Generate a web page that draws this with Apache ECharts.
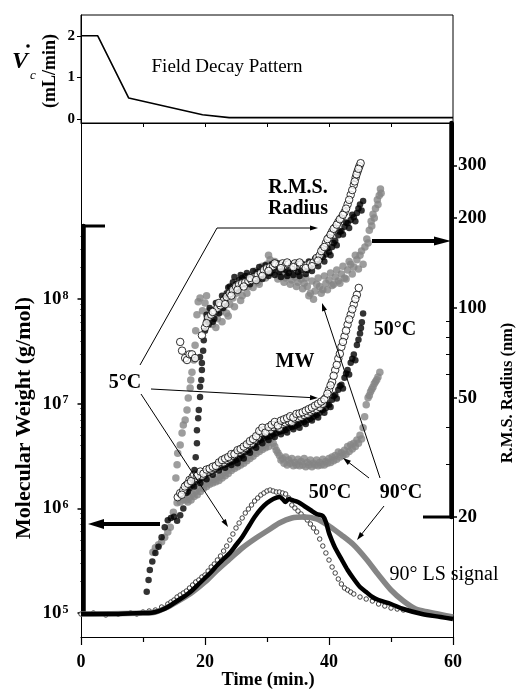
<!DOCTYPE html>
<html><head><meta charset="utf-8">
<script src="https://cdn.jsdelivr.net/npm/echarts@6/dist/echarts.min.js"></script>
<style>html,body{margin:0;padding:0;background:#fff}#c{width:521px;height:690px}</style>
</head><body><div id="c"></div>
<script>
const FONT = '"Liberation Serif","Times New Roman",serif';
const GRAY = '#858585';

// ---- Top panel: field decay pattern (mL/min vs time) ----
const decayTime = [0, 2.7, 7.7, 19.6, 23.9, 60];
const decayFlow = [2, 2, 0.5, 0.1, 0.03, 0.03];
const decayTicks = [0, 1, 2];

// ---- Axis tick values ----
const mwTickExps = [5, 6, 7, 8];             // 10^5 ... 10^8 g/mol
const rmsTicks = [20, 50, 100, 200, 300];    // nm
const rmsMinorTicks = [30, 40, 60, 70, 80, 90];

// ---- R.M.S. radius (nm) ----
const rms5C = [[16.0,77],[16.3,72],[16.8,68],[17.1,67],[17.5,70],[17.9,70],[18.4,68],[19.5,81],[20.0,86],[20.5,93],[21.0,95],[21.5,98],[22.0,100],[22.5,102],[23.0,106],[23.5,109],[24.0,112],[24.5,115],[25.0,118],[25.5,120],[26.0,121],[26.5,122],[27.0,123],[27.5,124],[28.0,127],[28.5,129],[29.0,131],[29.5,134],[30.0,136],[30.5,137],[31.0,138],[31.5,140],[32.0,139],[32.5,141],[33.0,139],[33.5,140],[34.0,138],[34.5,141],[35.0,139],[35.5,140],[36.0,138],[36.5,139],[37.0,141],[37.5,142],[38.0,147],[38.5,150],[39.0,158],[39.5,165],[40.0,172],[40.5,180],[41.0,186],[41.5,194],[42.0,200],[42.5,209],[43.0,222],[43.5,239],[44.0,258],[44.3,273],[44.6,286],[44.9,298],[45.1,305]];
const rms5CSpread = [[20.25,89],[21.25,97],[22.25,104],[23.25,103],[24.25,110],[25.25,115],[26.25,118],[27.25,126],[28.25,124],[29.25,128],[30.25,133],[31.25,141],[32.25,136],[33.25,142],[34.25,137],[35.25,142],[36.25,136],[37.25,138],[38.25,144],[38.75,155],[39.25,160],[39.75,170],[40.25,176],[40.75,184],[41.25,190],[41.75,198],[42.25,205],[42.75,215],[43.25,230],[43.75,248],[44.15,265],[44.45,280],[44.75,292]];
const rms50C = [[18.3,28.7],[18.5,31.7],[18.7,35.3],[18.7,39],[18.9,42.8],[19.0,45.6],[19.2,50.4],[19.2,54.5],[19.4,57.4],[19.5,62],[19.5,65.5],[19.2,68.6],[19.7,72],[19.8,78],[20.0,84],[20.3,91],[20.6,88],[21.0,95],[21.5,92],[21.9,98],[22.3,101],[22.9,100],[23.2,108],[23.5,112],[24.0,118],[24.5,122],[25.0,120],[25.5,124],[26.0,126],[26.5,128],[27.0,124],[27.5,127],[28.0,128],[28.5,132],[29.0,127],[29.5,132],[30.0,136],[30.5,131],[31.0,134],[31.5,137],[32.0,132],[32.5,135],[33.0,134],[33.5,131],[34.0,135],[34.5,136],[35.0,132],[35.5,134],[36.0,138],[36.5,134],[37.0,138],[37.5,141],[38.0,142],[38.5,145],[39.0,148],[39.5,151],[40.0,154],[40.5,160],[41.0,168],[41.5,175],[42.0,181],[42.5,187],[43.0,192],[43.5,197],[44.0,201],[44.5,208],[45.0,222],[45.5,228]];
const rms50CSpread = [[20.25,95],[20.75,100],[21.25,90],[21.75,104],[22.25,96],[22.75,110],[23.25,104],[23.75,117],[24.25,112],[24.75,127],[25.25,116],[25.75,129],[26.25,121],[26.75,131],[27.25,120],[27.75,133],[28.25,124],[28.75,137],[29.25,125],[29.75,139],[30.25,128],[30.75,140],[31.25,129],[31.75,141],[32.25,127],[32.75,140],[33.25,128],[33.75,139],[34.25,129],[34.75,141],[35.25,128],[35.75,140],[36.25,130],[36.75,143],[37.25,133],[37.75,146],[38.25,138],[38.75,150],[39.25,143],[39.75,158],[40.25,150],[40.75,165],[41.25,162],[41.75,180],[42.25,176],[42.75,193],[43.25,185],[43.75,205],[44.25,195],[44.75,215],[45.25,212]];
const rms90C = [[15.3,27],[15.5,29.9],[15.6,32.7],[16.0,34.8],[16.3,38.2],[16.5,40.6],[16.8,42.2],[17.1,45.6],[17.3,50],[17.6,54],[17.7,57.4],[17.9,61],[18.2,67],[18.4,75],[18.5,84],[18.7,95],[18.9,105],[19.2,108],[19.6,98],[20.0,104],[20.4,93],[20.8,90],[21.2,88],[21.6,95],[22.0,92],[22.5,97],[23.0,100],[23.5,96],[24.0,103],[24.5,108],[25.0,112],[25.5,115],[26.0,110],[26.5,120],[27.0,118],[27.5,124],[28.0,127],[28.5,122],[29.0,130],[29.5,135],[30.0,140],[30.5,145],[31.0,138],[31.5,133],[32.0,128],[32.5,131],[33.0,126],[33.5,129],[34.0,124],[34.5,127],[35.0,122],[35.5,125],[36.0,121],[36.5,118],[37.0,112],[37.5,107],[38.0,120],[38.5,118],[39.0,115],[39.5,121],[40.0,124],[40.5,119],[41.0,127],[41.5,123],[42.0,130],[42.5,126],[43.0,134],[43.5,140],[44.0,137],[44.5,145],[45.0,150],[45.5,140],[45.8,160],[46.1,170],[46.5,182],[46.8,195],[47.1,206],[47.5,215],[47.8,230],[48.1,238],[48.4,242]];
const rms90CSpread = [[20.25,110],[20.75,98],[21.25,96],[21.75,86],[22.25,102],[22.75,90],[23.25,106],[23.75,94],[24.25,113],[24.75,101],[25.25,118],[25.75,106],[26.25,124],[26.75,112],[27.25,128],[27.75,117],[28.25,133],[28.75,120],[29.25,138],[29.75,126],[30.25,150],[30.75,131],[31.25,143],[31.75,125],[32.25,136],[32.75,122],[33.25,134],[33.75,120],[34.25,131],[34.75,118],[35.25,129],[35.75,116],[36.25,126],[36.75,110],[37.25,123],[37.75,114],[38.25,126],[38.75,112],[39.25,128],[39.75,115],[40.25,131],[40.75,120],[41.25,134],[41.75,121],[42.25,138],[42.75,125],[43.25,143],[43.75,130],[44.25,150],[44.75,135],[45.25,155],[46.3,165],[46.9,188],[47.3,200],[47.9,222],[48.3,250]];

// ---- Molecular weight (g/mol) ----
const mw5C = [[15.6,1.28e6],[16.0,1.4e6],[16.5,1.5e6],[17.0,1.67e6],[17.5,1.87e6],[18.0,2.0e6],[18.5,1.95e6],[19.0,2.1e6],[19.5,2.05e6],[20.0,2.2e6],[20.5,2.25e6],[21.0,2.33e6],[21.5,2.45e6],[22.0,2.6e6],[22.5,2.7e6],[23.0,2.75e6],[23.5,2.9e6],[24.0,3.0e6],[24.5,3.2e6],[25.0,3.4e6],[25.5,3.45e6],[26.0,3.6e6],[26.5,3.8e6],[27.0,4.05e6],[27.5,4.2e6],[28.0,4.5e6],[28.5,4.8e6],[29.0,5.3e6],[29.5,5.6e6],[30.0,5.5e6],[30.5,5.6e6],[31.0,6.0e6],[31.5,6.3e6],[32.0,5.9e6],[32.5,6.4e6],[33.0,6.6e6],[33.5,6.8e6],[34.0,6.7e6],[34.5,7.2e6],[35.0,7.3e6],[35.5,7.5e6],[36.0,7.8e6],[36.5,8.0e6],[37.0,8.4e6],[37.5,8.7e6],[38.0,8.9e6],[38.5,9.3e6],[39.0,1.0e7],[39.5,1.14e7],[40.0,1.36e7],[40.5,1.62e7],[41.0,2.1e7],[41.5,2.7e7],[42.0,3.5e7],[42.5,4.4e7],[43.0,5.7e7],[43.5,7.1e7],[44.0,8.9e7],[44.5,1.1e8],[44.8,1.28e8]];
const mw5CSpread = [[16.25,1.35e6],[16.75,1.62e6],[17.25,1.72e6],[17.75,1.82e6],[18.25,2.1e6],[18.75,2.05e6],[19.25,2.25e6],[19.75,2.15e6],[20.25,2.35e6],[20.75,2.4e6],[21.25,2.5e6],[21.75,2.55e6],[22.25,2.75e6],[22.75,2.9e6],[23.25,3.0e6],[23.75,3.1e6],[24.25,3.3e6],[24.75,3.3e6],[25.25,3.6e6],[25.75,3.7e6],[26.25,3.9e6],[26.75,4.1e6],[27.25,4.4e6],[27.75,4.6e6],[28.25,4.9e6],[28.75,5.5e6],[29.25,5.9e6],[29.75,5.3e6],[30.25,6.0e6],[30.75,6.3e6],[31.25,6.7e6],[31.75,6.2e6],[32.25,6.9e6],[32.75,7.1e6],[33.25,7.3e6],[33.75,7.6e6],[34.25,7.4e6],[34.75,8.0e6],[35.25,8.1e6],[35.75,8.3e6],[36.25,8.6e6],[36.75,8.9e6],[37.25,9.2e6],[37.75,9.6e6],[38.25,1.0e7],[38.75,1.05e7],[39.25,1.1e7],[39.75,1.25e7],[40.25,1.5e7],[40.75,1.85e7],[41.25,2.35e7],[41.75,3.0e7],[42.25,3.9e7],[42.75,5.0e7],[43.25,6.4e7],[43.75,8.0e7],[44.25,1.0e8]];
const mw50C = [[10.6,1.6e5],[10.9,2.07e5],[11.1,2.58e5],[11.5,3.1e5],[12.0,3.74e5],[12.5,4.3e5],[13.0,5.3e5],[13.5,6.6e5],[14.0,7.7e5],[14.5,8.1e5],[15.0,8.3e5],[15.5,7.6e5],[16.0,8.6e5],[16.5,1.0e6],[17.0,1.4e6],[17.5,1.56e6],[18.0,1.67e6],[18.5,1.8e6],[19.0,1.87e6],[19.5,1.95e6],[20.0,2.05e6],[20.5,2.15e6],[21.0,2.25e6],[21.5,2.33e6],[22.0,2.45e6],[22.5,2.5e6],[23.0,2.6e6],[23.5,2.65e6],[24.0,2.75e6],[24.5,2.8e6],[25.0,2.9e6],[25.5,3.0e6],[26.0,3.2e6],[26.5,3.45e6],[27.0,3.6e6],[27.5,3.9e6],[28.0,4.05e6],[28.5,4.3e6],[29.0,4.5e6],[29.5,4.7e6],[30.0,4.8e6],[30.5,4.9e6],[31.0,5.1e6],[31.5,5.25e6],[32.0,5.4e6],[32.5,5.5e6],[33.0,5.6e6],[33.5,5.9e6],[34.0,6.0e6],[34.5,6.1e6],[35.0,6.3e6],[35.5,6.6e6],[36.0,6.7e6],[36.5,7.0e6],[37.0,7.2e6],[37.5,7.5e6],[38.0,7.8e6],[38.5,8.2e6],[39.0,8.7e6],[39.5,9.1e6],[40.0,9.8e6],[40.5,1.09e7],[41.0,1.22e7],[41.5,1.36e7],[42.0,1.52e7],[42.5,1.77e7],[43.0,2.1e7],[43.5,2.46e7],[44.0,2.95e7],[44.5,3.65e7],[45.0,4.7e7],[45.3,6.0e7],[45.5,7.3e7]];
const mw50CSpread = [[17.25,1.45e6],[17.75,1.75e6],[18.25,1.62e6],[18.75,1.95e6],[19.25,1.75e6],[19.75,2.1e6],[20.25,1.9e6],[20.75,2.3e6],[21.25,2.1e6],[21.75,2.55e6],[22.25,2.3e6],[22.75,2.7e6],[23.25,2.45e6],[23.75,2.9e6],[24.25,2.6e6],[24.75,3.05e6],[25.25,2.7e6],[25.75,3.3e6],[26.25,3.0e6],[26.75,3.7e6],[27.25,3.4e6],[27.75,4.2e6],[28.25,3.8e6],[28.75,4.6e6],[29.25,4.2e6],[29.75,5.1e6],[30.25,4.5e6],[30.75,5.3e6],[31.25,4.8e6],[31.75,5.7e6],[32.25,5.1e6],[32.75,5.9e6],[33.25,5.3e6],[33.75,6.3e6],[34.25,5.7e6],[34.75,6.5e6],[35.25,5.9e6],[35.75,7.0e6],[36.25,6.4e6],[36.75,7.5e6],[37.25,6.9e6],[37.75,8.0e6],[38.25,7.4e6],[38.75,8.8e6],[39.25,8.2e6],[39.75,9.9e6],[40.25,9.3e6],[40.75,1.18e7],[41.25,1.12e7],[41.75,1.48e7],[42.25,1.4e7],[42.75,1.95e7],[43.25,1.9e7],[43.75,2.7e7],[44.25,2.6e7],[44.75,4.1e7],[45.15,5.3e7]];
const mw90C = [[11.6,3.8e5],[12.0,4.2e5],[12.5,4.5e5],[13.0,4.8e5],[13.5,5.3e5],[14.0,5.95e5],[14.4,6.6e5],[14.9,9.2e5],[15.5,1.13e6],[16.0,1.15e6],[16.5,1.2e6],[17.0,1.2e6],[17.5,1.28e6],[18.0,1.37e6],[18.5,1.46e6],[19.0,1.56e6],[19.5,1.67e6],[20.0,1.75e6],[20.5,1.8e6],[21.0,1.87e6],[21.5,1.9e6],[22.0,2.0e6],[22.5,2.05e6],[23.0,2.2e6],[23.5,2.3e6],[24.0,2.45e6],[24.5,2.55e6],[25.0,2.7e6],[25.5,2.75e6],[26.0,2.9e6],[26.5,3.0e6],[27.0,3.2e6],[27.5,3.4e6],[28.0,3.6e6],[28.5,3.8e6],[29.0,3.9e6],[29.5,4.05e6],[30.0,4.2e6],[30.5,4.5e6],[31.0,4.2e6],[31.5,3.6e6],[32.0,3.2e6],[32.5,3.0e6],[33.0,3.1e6],[33.5,2.9e6],[34.0,3.0e6],[34.5,2.75e6],[35.0,2.95e6],[35.5,2.8e6],[36.0,3.0e6],[36.5,2.75e6],[37.0,2.9e6],[37.5,2.7e6],[38.0,2.9e6],[38.5,2.75e6],[39.0,2.95e6],[39.5,2.8e6],[40.0,3.0e6],[40.5,3.1e6],[41.0,3.2e6],[41.5,3.45e6],[42.0,3.4e6],[42.5,3.6e6],[43.0,3.9e6],[43.5,4.05e6],[44.0,4.2e6],[44.5,4.5e6],[45.0,5.0e6],[45.5,5.9e6],[46.0,9.8e6],[46.3,1.14e7],[46.7,1.3e7],[47.1,1.45e7],[47.5,1.62e7],[47.9,1.8e7],[48.2,2.0e7]];
const mw90CSpread = [[17.25,1.15e6],[17.75,1.2e6],[18.25,1.3e6],[18.75,1.35e6],[19.25,1.45e6],[19.75,1.55e6],[20.25,1.62e6],[20.75,1.7e6],[21.25,1.75e6],[21.75,1.8e6],[22.25,1.85e6],[22.75,1.95e6],[23.25,2.05e6],[23.75,2.15e6],[24.25,2.3e6],[24.75,2.4e6],[25.25,2.5e6],[25.75,2.6e6],[26.25,2.7e6],[26.75,2.85e6],[27.25,3.0e6],[27.75,3.15e6],[28.25,3.35e6],[28.75,3.5e6],[29.25,3.65e6],[29.75,3.8e6],[30.25,3.9e6],[30.75,4.8e6],[31.25,3.9e6],[31.75,3.4e6],[32.25,2.9e6],[32.75,2.7e6],[33.25,2.6e6],[33.75,2.7e6],[34.25,2.55e6],[34.75,2.6e6],[35.25,2.55e6],[35.75,2.6e6],[36.25,2.5e6],[36.75,2.6e6],[37.25,2.5e6],[37.75,2.6e6],[38.25,2.55e6],[38.75,2.6e6],[39.25,2.6e6],[39.75,2.7e6],[40.25,2.75e6],[40.75,2.85e6],[41.25,2.95e6],[41.75,3.1e6],[42.25,3.2e6],[42.75,3.3e6],[43.25,3.5e6],[43.75,3.7e6],[44.25,3.9e6],[44.75,4.2e6],[45.25,4.6e6],[45.75,7.5e6],[46.5,1.2e7],[46.9,1.38e7],[47.3,1.55e7],[47.7,1.7e7]];

// ---- 90° light-scattering signal (arbitrary units) ----
const ls5C = [[0,0],[2,0.01],[4,-0.01],[6,0],[8,0.01],[9,0],[10,0.02],[11,0.03],[12,0.04],[13,0.07],[14,0.10],[14.5,0.12],[15,0.14],[15.5,0.17],[16,0.19],[16.5,0.21],[17,0.23],[17.5,0.26],[18,0.29],[18.5,0.32],[19,0.34],[19.5,0.37],[20,0.39],[20.5,0.43],[21,0.47],[21.5,0.50],[22,0.54],[22.5,0.58],[23,0.63],[23.5,0.68],[24,0.74],[24.5,0.80],[25,0.86],[25.5,0.91],[26,0.96],[26.5,1.01],[27,1.05],[27.5,1.09],[28,1.13],[28.5,1.16],[29,1.19],[29.5,1.21],[30,1.23],[30.5,1.24],[31,1.23],[31.5,1.22],[32,1.22],[32.5,1.21],[33,1.20],[33.5,1.16],[34,1.09],[34.5,1.06],[35,1.03],[35.5,1.00],[36,0.97],[36.5,0.94],[37,0.90],[37.5,0.86],[38,0.82],[38.5,0.75],[39,0.68],[39.5,0.61],[40,0.54],[40.5,0.47],[41,0.41],[41.5,0.35],[42,0.30],[42.5,0.26],[43,0.24],[43.5,0.22],[44,0.20],[45,0.17],[46,0.15],[47,0.13],[48,0.10],[49,0.08],[50,0.06],[51,0.05],[52,0.04]];
const ls50C = [[0,0],[5,0],[10,0.01],[11,0.01],[12,0.02],[13,0.04],[14,0.07],[15,0.11],[16,0.15],[17,0.19],[18,0.24],[19,0.30],[20,0.36],[21,0.42],[22,0.49],[23,0.55],[24,0.61],[25,0.69],[26,0.77],[27,0.87],[28,0.97],[29,1.05],[30,1.11],[31,1.15],[32,1.17],[32.5,1.15],[33,1.12],[33.5,1.15],[34,1.14],[35,1.12],[36,1.08],[37,1.04],[38,1.00],[39,0.98],[39.5,0.92],[40,0.81],[40.5,0.73],[41,0.66],[42,0.55],[43,0.44],[44,0.35],[45,0.27],[46,0.22],[47,0.17],[48,0.14],[50,0.10],[52,0.05],[55,0],[58,-0.03],[60,-0.05]];
const ls90C = [[0,0],[10,0.01],[12,0.02],[14,0.07],[16,0.14],[18,0.22],[20,0.32],[22,0.44],[24,0.55],[26,0.66],[28,0.75],[30,0.83],[32,0.91],[34,0.96],[36,0.97],[38,0.95],[40,0.88],[42,0.79],[44,0.69],[46,0.55],[48,0.39],[50,0.24],[52,0.13],[54,0.05],[56,0.02],[60,-0.03]];

// ---------------------------------------------------------------
const chart = echarts.init(document.getElementById('c'), null, {renderer: 'canvas'});
const L10 = Math.log10;
const blackLine = {show: true, onZero: false, lineStyle: {color: '#000', width: 1}};

function arrowEls(pts, lw, hl, hw) {
  const n = pts.length;
  const x1 = pts[n-2][0], y1 = pts[n-2][1], x2 = pts[n-1][0], y2 = pts[n-1][1];
  const dx = x2 - x1, dy = y2 - y1, len = Math.hypot(dx, dy), ux = dx / len, uy = dy / len;
  const bx = x2 - ux * hl, by = y2 - uy * hl;
  const linePts = pts.slice(0, n - 1).concat([[bx + ux, by + uy]]);
  return [
    {type: 'polyline', silent: true, z: 100, shape: {points: linePts}, style: {stroke: '#000', lineWidth: lw, fill: null}},
    {type: 'polygon', silent: true, z: 100, shape: {points: [[x2, y2], [bx - uy * hw, by + ux * hw], [bx + uy * hw, by - ux * hw]]}, style: {fill: '#000'}}
  ];
}
function txt(s, x, y, size, bold, opts) {
  opts = opts || {};
  return {type: 'text', silent: true, z: 100, x: x, y: y, rotation: opts.rot || 0,
    style: {text: s, x: 0, y: 0, fill: '#000',
      font: (opts.italic ? 'italic ' : '') + (bold ? 'bold ' : '') + size + 'px ' + FONT,
      align: opts.align || 'center', verticalAlign: 'middle',
      textAlign: opts.align || 'center', textVerticalAlign: 'middle'}};
}
function line(x1, y1, x2, y2, w) {
  return {type: 'line', silent: true, z: 100, shape: {x1: x1, y1: y1, x2: x2, y2: y2}, style: {stroke: '#000', lineWidth: w}};
}

const mwMinor = [];
for (let e = 5; e <= 8; e++) for (let m = 2; m <= 9; m++) { const v = L10(m) + e; if (v < L10(5e8)) mwMinor.push(v); }

const graphics = [].concat(
  arrowEls([[140,365],[217,228],[318,228]], 1, 8, 2.6),
  arrowEls([[151,389],[318,398]], 1, 8, 2.6),
  arrowEls([[141,394],[228,527]], 1, 8, 2.6),
  arrowEls([[380,478],[322,303]], 1, 8, 2.6),
  arrowEls([[369,478],[343,458]], 1, 8, 2.6),
  arrowEls([[384,506],[357,540]], 1, 8, 2.6),
  arrowEls([[160,524],[88,524]], 4, 16, 5),
  arrowEls([[372,241],[451,241]], 4, 17, 4.5),
  [line(81, 226, 105, 226, 3), line(423, 517, 451, 517, 3),
   txt('Field Decay Pattern', 227, 67, 19, false),
   txt('V', 20, 62, 24, true, {italic: true}),
   {type: 'circle', silent: true, z: 100, shape: {cx: 28, cy: 46, r: 1.8}, style: {fill: '#000'}},
   txt('c', 33, 76, 13, false, {italic: true}),
   txt('(mL/min)', 50, 71, 18, true, {rot: Math.PI / 2}),
   txt('R.M.S.', 298, 188, 20, true),
   txt('Radius', 298, 209, 20, true),
   txt('MW', 295, 362, 20, true),
   txt('50°C', 395, 330, 20, true),
   txt('5°C', 125, 383, 20, true),
   txt('50°C', 330, 493, 20, true),
   txt('90°C', 401, 493, 20, true),
   txt('90° LS signal', 444, 575, 20, false),
   txt('Molecular Weight (g/mol)', 24, 418, 22, true, {rot: Math.PI / 2}),
   txt('R.M.S. Radius (nm)', 508, 393, 16.5, true, {rot: Math.PI / 2}),
   txt('Time (min.)', 268, 680, 18.5, true)]
);

const hiddenX = (g) => ({type: 'value', gridIndex: g, min: 0, max: 1, show: false});
const openStyle = {color: '#fff', borderColor: '#000', borderWidth: 1};

const option = {
  animation: false,
  backgroundColor: '#fff',
  textStyle: {fontFamily: FONT},
  grid: [
    {left: 81, top: 15, width: 372, height: 108, show: true, borderColor: '#000', borderWidth: 1, backgroundColor: 'transparent'},
    {left: 81, top: 123, width: 372, height: 514},
    {left: 83.5, top: 226, width: 100, height: 387},
    {left: 300, top: 123, width: 151, height: 394}
  ],
  xAxis: [
    {type: 'value', gridIndex: 0, min: 0, max: 60, interval: 10,
      axisLine: blackLine, axisTick: {show: true, length: 4, lineStyle: {color: '#000'}},
      axisLabel: {show: false}, splitLine: {show: false}},
    {type: 'value', gridIndex: 1, min: 0, max: 60, interval: 20,
      axisLine: {show: true, onZero: false, lineStyle: {color: '#000', width: 1.2}},
      axisTick: {show: true, length: 8, lineStyle: {color: '#000', width: 1.2}},
      minorTick: {show: true, splitNumber: 2, length: 5, lineStyle: {color: '#000', width: 1.2}},
      axisLabel: {show: true, margin: 16, color: '#000', fontFamily: FONT, fontWeight: 'bold', fontSize: 18},
      splitLine: {show: false}},
    hiddenX(2), hiddenX(3)
  ],
  yAxis: [
    {type: 'value', gridIndex: 0, min: -0.1, max: 2.5, position: 'left',
      axisLine: blackLine,
      axisTick: {show: true, length: 4, customValues: decayTicks, lineStyle: {color: '#000'}},
      axisLabel: {show: true, customValues: decayTicks, margin: 6, color: '#000', fontFamily: FONT, fontWeight: 'bold', fontSize: 15},
      splitLine: {show: false}},
    {type: 'log', gridIndex: 1, min: Math.pow(10, 4.7706), max: Math.pow(10, 9.6836), position: 'left',
      axisLine: blackLine, axisTick: {show: false}, axisLabel: {show: false}, splitLine: {show: false}, minorSplitLine: {show: false}},
    {type: 'log', gridIndex: 1, min: 7.94, max: 415.6, position: 'right',
      axisLine: blackLine, axisTick: {show: false}, axisLabel: {show: false}, splitLine: {show: false}, minorSplitLine: {show: false}},
    {type: 'value', gridIndex: 1, min: -0.23, max: 4.91, position: 'left', show: false, splitLine: {show: false}},
    {type: 'value', gridIndex: 2, min: 5, max: L10(5e8), position: 'left',
      axisLine: {show: true, onZero: false, lineStyle: {color: '#000', width: 4.5}},
      axisTick: {show: true, length: 6, customValues: mwTickExps, lineStyle: {color: '#000', width: 1.5}},
      axisLabel: {show: true, customValues: mwTickExps, margin: 15, color: '#000',
        formatter: (v) => '{a|10}{b|' + Math.round(v) + '}',
        rich: {a: {fontFamily: FONT, fontWeight: 'bold', fontSize: 19, color: '#000'},
               b: {fontFamily: FONT, fontWeight: 'bold', fontSize: 12, color: '#000', verticalAlign: 'top', padding: [0, 0, 0, 1]}}},
      splitLine: {show: false}},
    {type: 'value', gridIndex: 2, min: 5, max: L10(5e8), position: 'left',
      axisLine: {show: false, onZero: false}, axisLabel: {show: false},
      axisTick: {show: true, length: 3, customValues: mwMinor, lineStyle: {color: '#000', width: 1}},
      splitLine: {show: false}},
    {type: 'value', gridIndex: 3, min: L10(20), max: L10(415.6), position: 'right',
      axisLine: {show: true, onZero: false, lineStyle: {color: '#000', width: 4.5}},
      axisTick: {show: true, length: 6, customValues: rmsTicks.map(L10), lineStyle: {color: '#000', width: 1.5}},
      axisLabel: {show: true, customValues: rmsTicks.map(L10), margin: 7, color: '#000', fontFamily: FONT, fontWeight: 'bold', fontSize: 19,
        formatter: (v) => String(Math.round(Math.pow(10, v)))},
      splitLine: {show: false}},
    {type: 'value', gridIndex: 3, min: L10(20), max: L10(415.6), position: 'right',
      axisLine: {show: false, onZero: false}, axisLabel: {show: false},
      axisTick: {show: true, inside: true, length: 5, customValues: rmsMinorTicks.map(L10), lineStyle: {color: '#000', width: 1}},
      splitLine: {show: false}}
  ],
  series: [
    {type: 'line', xAxisIndex: 0, yAxisIndex: 0, data: decayTime.map((t, i) => [t, decayFlow[i]]),
      showSymbol: false, lineStyle: {color: '#000', width: 1.6}},
    {type: 'line', name: 'LS 90C', xAxisIndex: 1, yAxisIndex: 3, data: ls90C, showSymbol: false, smooth: 0.3,
      lineStyle: {color: GRAY, width: 5.5}},
    {type: 'line', name: 'LS 50C', xAxisIndex: 1, yAxisIndex: 3, data: ls50C, showSymbol: false, smooth: 0.3,
      lineStyle: {color: '#000', width: 4.5}},
    {type: 'scatter', name: 'LS 5C', xAxisIndex: 1, yAxisIndex: 3, data: ls5C, symbol: 'circle', symbolSize: 4.5,
      itemStyle: {color: '#fff', borderColor: '#000', borderWidth: 0.9}},
    {type: 'scatter', name: 'MW 90C', xAxisIndex: 1, yAxisIndex: 1, data: mw90C.concat(mw90CSpread), symbolSize: 7.5, itemStyle: {color: GRAY}},
    {type: 'scatter', name: 'MW 50C', xAxisIndex: 1, yAxisIndex: 1, data: mw50C.concat(mw50CSpread), symbolSize: 6.5, itemStyle: {color: '#000'}},
    {type: 'scatter', name: 'MW 5C', xAxisIndex: 1, yAxisIndex: 1, data: mw5C.concat(mw5CSpread), symbolSize: 7.5, itemStyle: openStyle},
    {type: 'scatter', name: 'RMS 90C', xAxisIndex: 1, yAxisIndex: 2, data: rms90C.concat(rms90CSpread), symbolSize: 7.5, itemStyle: {color: GRAY}},
    {type: 'scatter', name: 'RMS 50C', xAxisIndex: 1, yAxisIndex: 2, data: rms50C.concat(rms50CSpread), symbolSize: 6.5, itemStyle: {color: '#000'}},
    {type: 'scatter', name: 'RMS 5C', xAxisIndex: 1, yAxisIndex: 2, data: rms5C.concat(rms5CSpread), symbolSize: 7.5, itemStyle: openStyle}
  ],
  graphic: graphics
};
chart.setOption(option);
</script>
</body></html>
